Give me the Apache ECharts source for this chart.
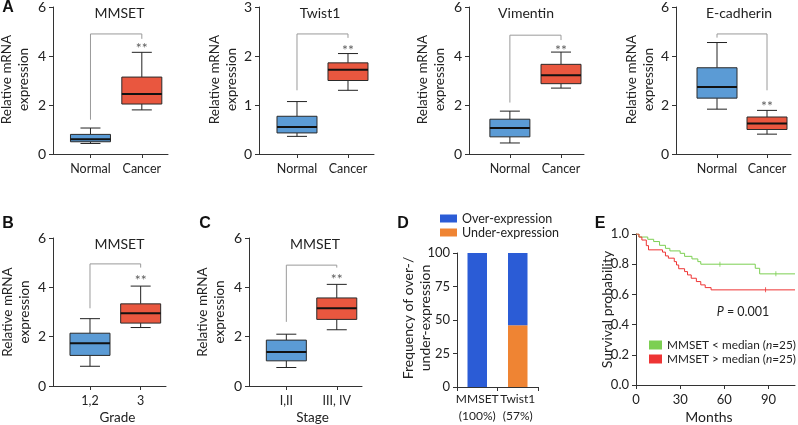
<!DOCTYPE html>
<html><head><meta charset="utf-8">
<script src="https://cdn.jsdelivr.net/npm/echarts@6/dist/echarts.min.js"></script>
<style>html,body{margin:0;padding:0;background:#fff}#c{width:798px;height:425px}</style>
</head><body><div id="c"></div>
<script>
// ---------- data ----------
const catsA = ['Normal', 'Cancer'];
const catsB = ['1,2', '3'];
const catsC = ['I,II', 'III, IV'];
// box values: [min, Q1, median, Q3, max]
const mmsetA = [[0.43, 0.50, 0.60, 0.80, 1.06], [1.80, 2.04, 2.45, 3.14, 4.15]];
const twistA = [[0.36, 0.43, 0.55, 0.77, 1.07], [1.30, 1.50, 1.72, 1.86, 2.05]];
const vimA   = [[0.45, 0.70, 1.06, 1.42, 1.75], [2.69, 2.87, 3.21, 3.66, 4.16]];
const ecadA  = [[1.83, 2.28, 2.73, 3.52, 4.55], [0.81, 1.00, 1.25, 1.51, 1.78]];
const mmsetB = [[0.80, 1.24, 1.73, 2.14, 2.73], [2.37, 2.55, 2.95, 3.33, 4.05]];
const mmsetC = [[0.75, 1.02, 1.38, 1.86, 2.10], [2.28, 2.70, 3.15, 3.57, 4.12]];
// significance brackets: [left end, top, right end], star level
const brMmsetA = [1.4, 4.9, 4.7],  starMmsetA = 4.45;
const brTwistA = [1.3, 2.45, 2.37], starTwistA = 2.2;
const brVimA   = [2.1, 4.85, 4.65], starVimA = 4.4;
const brEcadA  = [4.75, 4.9, 2.6], starEcadA = 2.1;
const brMmsetB = [3.15, 4.95, 4.8], starMmsetB = 4.45;
const brMmsetC = [2.6, 4.9, 4.8],  starMmsetC = 4.5;
const ticksSix = [0, 2, 4, 6];
const ticksThree = [0, 1, 2, 3];
// panel D
const dCats = ['MMSET', 'Twist1'];
const dPct = ['(100%)', '(57%)'];
const dOver = [100, 54];
const dUnder = [0, 46];
const ticksD = [0, 25, 50, 75, 100];
// panel E (Kaplan-Meier steps: [month, survival])
const kmLow = [[0,1.0],[2,0.98],[8,0.965],[12,0.95],[16,0.925],[20,0.905],[23,0.888],[30,0.872],[33,0.852],[38,0.835],[42,0.817],[44,0.80],[81,0.773],[84,0.736],[108,0.736]];
const kmHigh = [[0,1.0],[2,0.98],[4,0.96],[7,0.923],[8.5,0.895],[18,0.88],[20,0.855],[22,0.84],[26,0.817],[27.5,0.795],[29,0.77],[33,0.751],[35,0.729],[37.5,0.707],[41,0.685],[44,0.663],[47,0.645],[51,0.63],[108,0.63]];
const censLow = [[57,0.80],[95,0.736]];
const censHigh = [[88,0.63]];
const eNames = ['MMSET < median (n=25)', 'MMSET > median (n=25)'];
const ticksEx = [0, 30, 60, 90];
const ticksEy = [0, 0.2, 0.4, 0.6, 0.8, 1.0];
const eXMax = 108;

// ---------- styles ----------
const FONT = 'Lato';
const AX = '#333';
const TX = '#222';
const BOX_COLORS = ['#5b9bd5', '#e9573f'];
const BOX_W = 40;

const boxPanels = [
  {title:'MMSET', cats:catsA, vals:mmsetA, br:brMmsetA, star:starMmsetA, ticks:ticksSix, grid:{left:53,top:5,width:115,height:149}, xr:[-0.73,1.51], tx:119.5, ty:13, nx:15.5},
  {title:'Twist1', cats:catsA, vals:twistA, br:brTwistA, star:starTwistA, ticks:ticksThree, grid:{left:259,top:5,width:115,height:149}, xr:[-0.745,1.51], tx:320, ty:13, nx:223},
  {title:'Vimentin', cats:catsA, vals:vimA, br:brVimA, star:starVimA, ticks:ticksSix, grid:{left:469,top:5,width:115,height:149}, xr:[-0.80,1.45], tx:526, ty:13, nx:431.5},
  {title:'E-cadherin', cats:catsA, vals:ecadA, br:brEcadA, star:starEcadA, ticks:ticksSix, grid:{left:676,top:5,width:115,height:149}, xr:[-0.82,1.48], tx:739, ty:13, nx:640.5},
  {title:'MMSET', cats:catsB, vals:mmsetB, br:brMmsetB, star:starMmsetB, ticks:ticksSix, grid:{left:53,top:238,width:113,height:148}, xr:[-0.73,1.5], tx:119.5, ty:244, nx:16, xname:'Grade', xnx:117.5},
  {title:'MMSET', cats:catsC, vals:mmsetC, br:brMmsetC, star:starMmsetC, ticks:ticksSix, grid:{left:249,top:238,width:113,height:148}, xr:[-0.74,1.5], tx:315, ty:244, nx:211.5, xname:'Stage', xnx:312.5}
];
const gridD = {left:457, top:253, width:81, height:134};
const gridE = {left:636, top:234, width:159, height:151};

function yAxisOf(i, ticks, fs, fmt) {
  return {type:'value', gridIndex:i, min:ticks[0], max:ticks[ticks.length-1], interval:ticks[1]-ticks[0],
    axisLine:{show:true, onZero:false, lineStyle:{color:AX, width:1}},
    axisTick:{show:true, length:4, lineStyle:{color:AX}},
    axisLabel:{fontSize:fs, color:TX, margin:7, fontFamily:FONT, formatter:fmt},
    splitLine:{show:false}};
}

function boxRender(params, api) {
  const x = api.value(0);
  const ys = [1,2,3,4,5].map(k => api.coord([x, api.value(k)])[1]);
  const cx = api.coord([x, 0])[0];
  const h = BOX_W / 2, cap = BOX_W / 4;
  const ln = {stroke:'#222', lineWidth:1};
  return {type:'group', children:[
    {type:'line', shape:{x1:cx, y1:ys[0], x2:cx, y2:ys[1]}, style:ln},
    {type:'line', shape:{x1:cx, y1:ys[3], x2:cx, y2:ys[4]}, style:ln},
    {type:'line', shape:{x1:cx-cap, y1:ys[0], x2:cx+cap, y2:ys[0]}, style:ln},
    {type:'line', shape:{x1:cx-cap, y1:ys[4], x2:cx+cap, y2:ys[4]}, style:ln},
    {type:'rect', shape:{x:cx-h, y:ys[3], width:BOX_W, height:ys[1]-ys[3]}, style:{fill:BOX_COLORS[params.dataIndex], stroke:'#2a2a2a', lineWidth:1}},
    {type:'line', shape:{x1:cx-h, y1:ys[2], x2:cx+h, y2:ys[2]}, style:{stroke:'#111', lineWidth:2}}
  ]};
}

const grids = [], xAxes = [], yAxes = [], series = [], graphics = [];

function txt(x, y, text, fs, extra) {
  return {type:'text', x:x, y:y, silent:true,
    style:Object.assign({legacy:false, text:text, fontSize:fs, fontFamily:FONT, fill:TX, align:'center', verticalAlign:'middle'}, extra || {})};
}
function rotTxt(x, y, text, fs) {
  const t = txt(x, y, text, fs, {lineHeight:17});
  t.rotation = Math.PI / 2;
  return t;
}

boxPanels.forEach((p, i) => {
  grids.push(Object.assign({}, p.grid));
  xAxes.push({type:'value', gridIndex:i, min:p.xr[0], max:p.xr[1],
    axisLine:{show:true, onZero:false, lineStyle:{color:AX, width:1}},
    axisTick:{show:true, length:4, customValues:[0,1], lineStyle:{color:AX}},
    axisLabel:{customValues:[0,1], formatter:v => p.cats[Math.round(v)], fontSize:12.5, color:TX, margin:8, fontFamily:FONT},
    splitLine:{show:false}});
  yAxes.push(yAxisOf(i, p.ticks, 14));
  series.push({type:'line', xAxisIndex:i, yAxisIndex:i, silent:true, animation:false, symbol:'none',
    data:[[0,p.br[0]],[0,p.br[1]],[1,p.br[1]],[1,p.br[2]]], lineStyle:{color:'#9a9a9a', width:1}});
  series.push({type:'custom', xAxisIndex:i, yAxisIndex:i, silent:true, animation:false,
    renderItem:boxRender, encode:{x:0, y:[1,2,3,4,5]},
    data:p.vals.map((d, k) => [k].concat(d))});
  series.push({type:'scatter', xAxisIndex:i, yAxisIndex:i, silent:true, animation:false, symbolSize:0,
    data:[[1, p.star]], label:{show:true, position:'inside', formatter:'**', fontSize:14, color:'#333', fontFamily:FONT, offset:[0,4]}});
  graphics.push(txt(p.tx, p.ty, p.title, 14));
  const cy = p.grid.top + p.grid.height / 2;
  graphics.push(rotTxt(p.nx, cy, 'Relative mRNA\nexpression', 13.5));
  if (p.xname) graphics.push(txt(p.xnx, 418, p.xname, 13.5));
});

// panel D
const iD = grids.length;
grids.push(Object.assign({}, gridD));
xAxes.push({type:'category', gridIndex:iD, data:dCats,
  axisLine:{show:true, onZero:false, lineStyle:{color:AX}},
  axisTick:{show:true, length:4, lineStyle:{color:AX}},
  axisLabel:{interval:0, fontSize:12, color:TX, margin:4, lineHeight:17, fontFamily:FONT, formatter:(v, k) => v + '\n' + dPct[k]}});
yAxes.push(yAxisOf(iD, ticksD, 13));
series.push({type:'bar', name:'Under-expression', xAxisIndex:iD, yAxisIndex:iD, stack:'d', data:dUnder, barWidth:19.5, itemStyle:{color:'#ef8433'}, animation:false});
series.push({type:'bar', name:'Over-expression', xAxisIndex:iD, yAxisIndex:iD, stack:'d', data:dOver, barWidth:19.5, itemStyle:{color:'#2b5cd6'}, animation:false});
graphics.push(rotTxt(417, gridD.top + gridD.height/2 - 2, 'Frequency of over-/\nunder-expression', 14));

// panel E
const iE = grids.length;
grids.push(Object.assign({}, gridE));
xAxes.push({type:'value', gridIndex:iE, min:ticksEx[0], max:eXMax,
  axisLine:{show:true, onZero:false, lineStyle:{color:AX}},
  axisTick:{show:true, length:4, customValues:ticksEx, lineStyle:{color:AX}},
  axisLabel:{customValues:ticksEx, fontSize:13, color:TX, margin:8, fontFamily:FONT},
  splitLine:{show:false}});
yAxes.push(yAxisOf(iE, ticksEy, 13, v => v.toFixed(1)));
const eCols = ['#7ccf52', '#ee3434'];
[kmLow, kmHigh].forEach((d, k) => {
  series.push({type:'line', name:eNames[k], xAxisIndex:iE, yAxisIndex:iE, step:'end', symbol:'none', data:d,
    lineStyle:{color:eCols[k], width:1}, itemStyle:{color:eCols[k]}, animation:false, silent:true});
});
[censLow, censHigh].forEach((d, k) => {
  series.push({type:'scatter', xAxisIndex:iE, yAxisIndex:iE, symbol:'rect', symbolSize:[1,5], data:d,
    itemStyle:{color:eCols[k]}, animation:false, silent:true});
});
graphics.push(rotTxt(607, gridE.top + gridE.height/2, 'Survival probability', 14));
graphics.push(txt(709, 417, 'Months', 14));
graphics.push(txt(743, 312, '{i|P} = 0.001', 12.5, {rich:{i:{fontStyle:'italic', fontSize:12.5, fontFamily:FONT, fill:TX}}}));

// panel letters
[['A',8,8],['B',8,224],['C',205,224],['D',403,224],['E',600,224]].forEach(l => {
  graphics.push(txt(l[1], l[2], l[0], 16, {fontWeight:'bold', fontFamily:'Liberation Sans', fill:'#111'}));
});

const option = {
  backgroundColor:'#fff',
  animation:false,
  textStyle:{fontFamily:FONT},
  grid:grids, xAxis:xAxes, yAxis:yAxes, series:series,
  legend:[
    {data:['Over-expression','Under-expression'], orient:'vertical', left:435, top:207, itemWidth:17, itemHeight:8, itemGap:1, icon:'rect',
      textStyle:{fontSize:12.5, color:TX, fontFamily:FONT}, selectedMode:false},
    {data:eNames, orient:'vertical', left:644, top:334, itemWidth:13, itemHeight:9, itemGap:2, icon:'rect', selectedMode:false,
      formatter:n => '{a|' + n.replace('(n=', '(}{i|n}{a|=') + '}',
      textStyle:{fontSize:11.8, color:TX, fontFamily:FONT, rich:{a:{fontSize:11.8, color:TX, fontFamily:FONT}, i:{fontSize:11.8, fontStyle:'italic', color:TX, fontFamily:FONT}}}}
  ],
  graphic:graphics
};
const chart = echarts.init(document.getElementById('c'), null, {renderer:'canvas'});
chart.setOption(option);
</script></body></html>
